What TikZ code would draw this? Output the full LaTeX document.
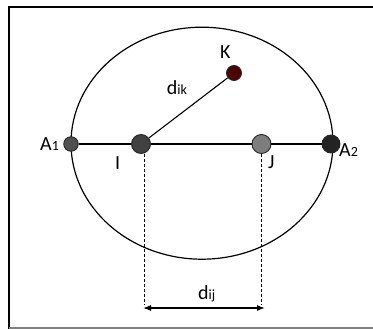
\documentclass[tikz,border=0pt]{standalone}
\usepackage{fontspec}
\setmainfont{Carlito}
\usetikzlibrary{arrows.meta, positioning}
\definecolor{dotgray}{RGB}{80,80,80}
\definecolor{dotdark}{RGB}{65,65,65}
\definecolor{dotlight}{RGB}{125,125,125}
\definecolor{dotblack}{RGB}{35,35,35}
\definecolor{dotred}{RGB}{75,5,5}

\newcommand{\sub}[1]{{\fontsize{14}{16}\selectfont #1}}

\begin{document}
\begin{tikzpicture}[x=1pt, y=-1pt,
  dot/.style={circle, draw=black!85, line width=0.9pt, inner sep=0pt, minimum size=#1},
  lbl/.style={font=\fontsize{20}{24}\selectfont, inner sep=0pt, anchor=base west},
  line/.style={line width=1.1pt},
  guide/.style={line width=0.6pt, dash pattern=on 3pt off 2pt},
  measure/.style={{Latex[length=8pt,width=6pt]}-{Latex[length=8pt,width=6pt]}, line width=1.1pt}
]
\useasboundingbox (0,0) rectangle (373,329);
% Frame
\draw[line width=2pt] (373,7) -- (9,7) -- (9,329);
\draw[line width=1.2pt, gray] (9,328) -- (373,328);

% Ellipse
\draw[line width=1.2pt] (202,143.2) ellipse [x radius=131pt, y radius=116pt];

% Points
\node[dot=14.5pt, fill=dotgray] (a1) at (71,144) {};
\node[dot=19pt, fill=dotdark] (i) at (141,144) {};
\node[dot=19pt, fill=dotlight] (j) at (261.5,144) {};
\node[dot=18pt, fill=dotblack] (a2) at (331,144) {};
\node[dot=15pt, fill=dotred] (k) at (234,73) {};

% Connectors
\draw[line] (a1) -- (i) -- (j) -- (a2);
\draw[line] (i) -- (k);

% Labels
\node[lbl] (la1) at (40,150.5) {A\sub{1}};
\node[lbl] (la2) at (339,156.5) {A\sub{2}};
\node[lbl] (li) at (115,170) {I};
\node[lbl] (lj) at (268,168) {J};
\node[lbl] (lk) at (220,58.3) {K};
\node[lbl] (ldik) at (166.7,95) {d\sub{ik}};

% Distance d_ij
\coordinate (ibot) at (144,304);
\coordinate (jbot) at (261,304);
\draw[guide] (i.south -| ibot) -- (ibot);
\draw[guide] (j.south -| jbot) -- (jbot);
\coordinate (ileft) at (143,308);
\coordinate (jright) at (265,308);
\draw[measure] (ileft) -- (jright);
\node[lbl] (ldij) at (198,300) {d\sub{ij}};
\end{tikzpicture}
\end{document}
